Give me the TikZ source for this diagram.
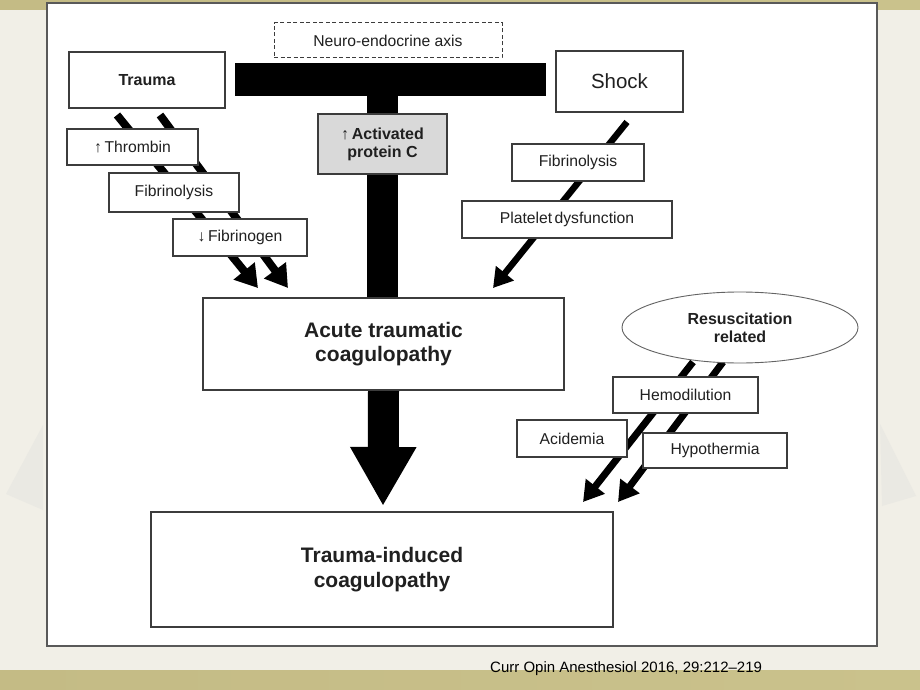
\documentclass[tikz,border=0pt]{standalone}
\usepackage{fontspec}
\setmainfont{Liberation Sans}
\usetikzlibrary{arrows.meta,shapes.geometric,calc}
\definecolor{bgc}{HTML}{F1EFE7}
\definecolor{khaki}{HTML}{C4BB85}
\definecolor{khakir}{HTML}{CAC28C}
\definecolor{khakil}{HTML}{E2E0D4}
\definecolor{boxc}{HTML}{3C3C3C}
\definecolor{txtc}{HTML}{202020}
\definecolor{apcfill}{HTML}{D9D9D9}
\definecolor{curl}{HTML}{EAE9E3}
\pgfdeclarelayer{bglayer}
\pgfdeclarelayer{arrlayer}
\pgfsetlayers{bglayer,arrlayer,main}
\begin{document}
\begin{tikzpicture}[x=1pt,y=-1pt,
  box/.style={draw=boxc, line width=1.1pt, fill=white, inner sep=0pt, text=txtc, align=center,
              font=\fontsize{15.7}{18}\selectfont},
  bbox/.style={box, font=\bfseries\fontsize{16}{18}\selectfont},
  bigbox/.style={box, font=\bfseries\fontsize{21}{24.5}\selectfont},
  fatarrow/.style={line width=8pt, black, -{Triangle[length=22pt,width=26pt]}},
  midarrow/.style={line width=6.5pt, black, -{Triangle[length=19pt,width=22pt]}},
  resarrow/.style={line width=7pt, black, -{Triangle[length=20pt,width=23pt]}}
]
\useasboundingbox (0,0) rectangle (920,690);

\begin{pgfonlayer}{bglayer}
  \fill[bgc] (0,0) rectangle (920,690);
  \shade[left color=khaki, right color=khakir] (0,0) rectangle (920,10);
  \shade[left color=khaki, middle color=khakil, right color=khakir] (0,670) rectangle (920,690);
  \fill[curl] (43,425) -- (6,494) -- (43,510) -- cycle;
  \fill[curl] (880,424) -- (916,496) -- (882,506) -- cycle;
  \draw[draw=boxc!85, line width=1.5pt, fill=white] (47,3) rectangle (877,646);
\end{pgfonlayer}

% nodes
\node[box, dashed, dash pattern=on 4pt off 2.5pt, line width=1pt, minimum width=228pt, minimum height=35pt] (neuro) at (388,40.5) {Neuro-endocrine axis};
\node[fill=black, inner sep=0pt, minimum width=311pt, minimum height=33pt] (bar) at (390.5,79.5) {};
\node[bbox, minimum width=156pt, minimum height=56pt] (trauma) at (147,80) {Trauma};
\node[box, minimum width=131pt, minimum height=36pt] (thrombin) at (132.5,147) {↑\,Thrombin};
\node[box, minimum width=130pt, minimum height=39pt] (fibl) at (174,192.5) {Fibrinolysis};
\node[box, minimum width=134pt, minimum height=37pt] (fibg) at (240,237.5) {↓\,Fibrinogen};
\node[bbox, fill=apcfill, minimum width=129pt, minimum height=60pt] (apc) at (382.5,144) {↑\,Activated\\protein C};
\node[box, font=\fontsize{20.5}{24}\selectfont, minimum width=127pt, minimum height=61pt] (shock) at (619.5,81.5) {Shock};
\node[box, minimum width=132pt, minimum height=37pt] (fibr) at (578,162.5) {Fibrinolysis};
\node[box, minimum width=210pt, minimum height=37pt] (plat) at (567,219.5) {Platelet\kern0.15em dysfunction};
\node[bigbox, minimum width=361pt, minimum height=92pt] (acute) at (383.5,344) {Acute traumatic\\coagulopathy};
\node[bigbox, minimum width=462pt, minimum height=115pt] (tic) at (382,569.5) {Trauma-induced\\coagulopathy};
\node[bbox, ellipse, draw=boxc!80, line width=0.9pt, minimum width=236pt, minimum height=71pt] (resus) at (740,327.5) {Resuscitation\\related};
\node[box, minimum width=145pt, minimum height=36pt] (hemo) at (685.5,395) {Hemodilution};
\node[box, minimum width=110pt, minimum height=37pt] (acid) at (572,438.5) {Acidemia};
\node[box, minimum width=144pt, minimum height=35pt] (hypo) at (715,450.5) {Hypothermia};
\node[anchor=base west, inner sep=0pt, text=black, font=\fontsize{15}{18}\selectfont] (cite) at (490,672) {Curr Opin Anesthesiol 2016, 29:212–219};

% connector end points
\coordinate (ta1) at (117,115);
\coordinate (ta2) at (160,115);
\coordinate (te1) at (258,288);
\coordinate (te2) at (288,288);
\coordinate (sa) at (627,122);
\coordinate (se) at (493,288);
\coordinate (ra1) at (693,362);
\coordinate (ra2) at (723,362);
\coordinate (re1) at (583,502);
\coordinate (re2) at (618,502);
\coordinate (tipb) at (383,506);

\begin{pgfonlayer}{arrlayer}
  \draw[fatarrow] (ta1) -- (te1);
  \draw[fatarrow] (ta2) -- (te2);
  \draw[midarrow] (sa) -- (se);
  \draw[resarrow] (ra1) -- (re1);
  \draw[resarrow] (ra2) -- (re2);
  \draw[line width=31pt, black] (bar.center -| apc.center) -- (acute.north -| apc.center);
  \draw[line width=31pt, black, -{Triangle[length=59pt,width=62pt]}] (acute.south) -- (tipb);
\end{pgfonlayer}
\end{tikzpicture}
\end{document}
